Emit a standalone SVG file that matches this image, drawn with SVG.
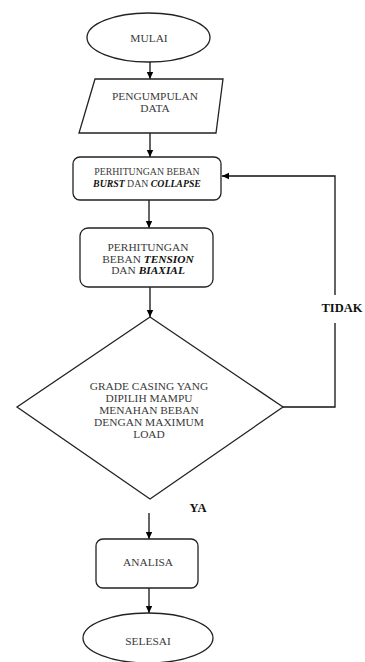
<svg xmlns="http://www.w3.org/2000/svg" width="365" height="662" viewBox="0 0 365 662">
<defs>
<marker id="ah" markerWidth="8" markerHeight="8" refX="7" refY="4" orient="auto" markerUnits="userSpaceOnUse">
<path d="M0,0.8 L7,4 L0,7.2 Z" fill="#000"/>
</marker>
<style>
.shape{fill:#fff;stroke:#222;stroke-width:1.3}
text{font-family:"Times New Roman","Liberation Serif","DejaVu Serif",serif}
.t{font-size:11.4px;fill:#3a3a3a;text-anchor:middle}
.s{font-size:9.8px}
.bi{font-weight:bold;font-style:italic;fill:#111}
.lbl{font-size:12.5px;font-weight:bold;fill:#111;text-anchor:middle}
.c{fill:none;stroke:#111;stroke-width:1.3}
</style>
</defs>
<rect width="365" height="662" fill="#fff"/>
<g id="connectors">
<line class="c" x1="150" y1="62" x2="150" y2="79" marker-end="url(#ah)"/>
<line class="c" x1="150" y1="133" x2="150" y2="157" marker-end="url(#ah)"/>
<line class="c" x1="149" y1="200" x2="149" y2="228" marker-end="url(#ah)"/>
<line class="c" x1="150" y1="287" x2="150" y2="317" marker-end="url(#ah)"/>
<line class="c" x1="149" y1="513" x2="149" y2="539" marker-end="url(#ah)"/>
<line class="c" x1="149" y1="588" x2="149" y2="613" marker-end="url(#ah)"/>
<polyline class="c" points="283,407 335,407 335,323"/>
<polyline class="c" points="335,295 335,176 222,176" marker-end="url(#ah)"/>
<text class="lbl" x="342" y="312">TIDAK</text>
<text class="lbl" x="198" y="512">YA</text>
</g>
<g id="mulai">
<ellipse class="shape" cx="148.5" cy="37.5" rx="61.5" ry="24.5"/>
<text class="t" x="149" y="41.5">MULAI</text>
</g>
<g id="pengumpulan">
<polygon class="shape" points="95,79 223,79 216,133 79,133"/>
<text class="t" x="155" y="100">PENGUMPULAN</text>
<text class="t" x="155" y="112">DATA</text>
</g>
<g id="hitung1">
<rect class="shape" x="73" y="157" width="148" height="43" rx="7"/>
<text class="t s" x="147" y="175">PERHITUNGAN BEBAN</text>
<text class="t s" x="147" y="187"><tspan class="bi">BURST</tspan> DAN <tspan class="bi">COLLAPSE</tspan></text>
</g>
<g id="hitung2">
<rect class="shape" x="80" y="228" width="133" height="59" rx="8"/>
<text class="t" x="148" y="251">PERHITUNGAN</text>
<text class="t" x="148" y="262.5">BEBAN <tspan class="bi">TENSION</tspan></text>
<text class="t" x="148" y="274">DAN <tspan class="bi">BIAXIAL</tspan></text>
</g>
<g id="keputusan">
<polygon class="shape" points="150,317 283,407 150,499 17,407"/>
<text class="t" x="149" y="390">GRADE CASING YANG</text>
<text class="t" x="149" y="402">DIPILIH MAMPU</text>
<text class="t" x="149" y="414">MENAHAN BEBAN</text>
<text class="t" x="149" y="426">DENGAN MAXIMUM</text>
<text class="t" x="149" y="438">LOAD</text>
</g>
<g id="analisa">
<rect class="shape" x="96" y="539" width="102" height="49" rx="7"/>
<text class="t" x="148" y="566">ANALISA</text>
</g>
<g id="selesai">
<ellipse class="shape" cx="148" cy="638" rx="65" ry="25"/>
<text class="t" x="148" y="645">SELESAI</text>
</g>
</svg>
